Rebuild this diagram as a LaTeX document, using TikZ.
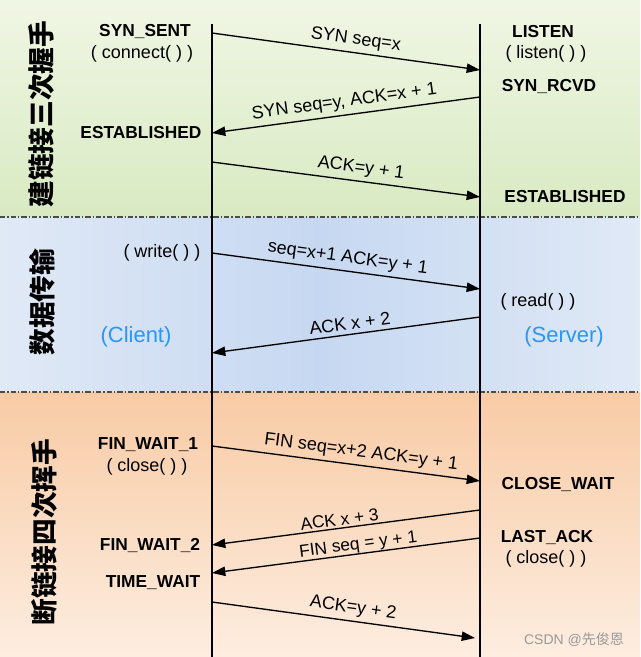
\documentclass[tikz,border=0pt]{standalone}
\usepackage{fontspec}
\setmainfont{Liberation Sans}
\newfontfamily\cjk{Noto Sans CJK SC}
\usetikzlibrary{arrows.meta}
\tikzset{>={Triangle[length=10pt,width=7pt]}}
\definecolor{sideblue}{RGB}{40,150,250}
\definecolor{greenA}{RGB}{240,246,228}
\definecolor{greenB}{RGB}{216,234,194}
\definecolor{blueA}{RGB}{224,233,246}
\definecolor{blueB}{RGB}{198,216,241}
\definecolor{peachA}{RGB}{248,203,165}
\definecolor{peachB}{RGB}{253,237,224}

\begin{document}
\begin{tikzpicture}[x=0.75pt,y=-0.75pt]

\tikzstyle{state}=[font=\bfseries\fontsize{13}{15}\selectfont,inner sep=0pt]
\tikzstyle{call}=[font=\fontsize{13.5}{15}\selectfont,inner sep=0pt]
\tikzstyle{side}=[font=\fontsize{16.5}{18}\selectfont,text=sideblue,inner sep=0pt]
\tikzstyle{phase}=[rotate=90,font=\cjk\bfseries\fontsize{20}{20}\selectfont,inner sep=0pt]
\tikzstyle{msg}=[->,line width=1pt]
\tikzstyle{lab}=[sloped,above,font=\fontsize{13.5}{15}\selectfont,inner sep=3pt]
\tikzstyle{sep}=[line width=0.8pt,black!70,dash pattern=on 4pt off 1.5pt on 1pt off 1.5pt]

 % background bands
 \useasboundingbox (0,0) rectangle (640,657);
 \shade[top color=greenA,bottom color=greenB] (0,0) rectangle (640,217);
 \shade[left color=blueA,right color=blueA,middle color=blueB] (0,217) rectangle (640,392);
 \shade[top color=peachA,bottom color=peachB] (0,392) rectangle (640,657);
 \draw[sep] (0,217) -- (640,217);
 \draw[sep] (0,392) -- (640,392);

 % phases
 \node[phase] (p1) at (41,114) {建链接三次握手};
 \node[phase] (p2) at (42,302) {数据传输};
 \node[phase] (p3) at (44,532) {断链接四次挥手};

 % lifelines
 \coordinate (ctop) at (212,24);
 \coordinate (cbot) at (212,657);
 \coordinate (stop) at (480,24);
 \coordinate (sbot) at (480,657);
 \draw[line width=1pt] (ctop) -- (cbot);
 \draw[line width=1pt] (stop) -- (sbot);

 % client side
 \node[state] (synsent) at (145,32) {SYN\_SENT};
 \node[call] (connect) at (142,54) {( connect( ) )};
 \node[state] (cest) at (141,133) {ESTABLISHED};
 \node[call] (write) at (162,253) {( write( ) )};
 \node[side] (client) at (136,337) {(Client)};
 \node[state] (fw1) at (148,445) {FIN\_WAIT\_1};
 \node[call] (cclose) at (147,467) {( close( ) )};
 \node[state] (fw2) at (150,545) {FIN\_WAIT\_2};
 \node[state] (tw) at (153,583) {TIME\_WAIT};

 % server side
 \node[state] (listen) at (543,32) {LISTEN};
 \node[call] (listencall) at (546,54) {( listen( ) )};
 \node[state] (synrcvd) at (549,87) {SYN\_RCVD};
 \node[state] (sest) at (565,197) {ESTABLISHED};
 \node[call] (read) at (538,302) {( read( ) )};
 \node[side] (server) at (564,337) {(Server)};
 \node[state] (cw) at (558,484) {CLOSE\_WAIT};
 \node[state] (la) at (547,537) {LAST\_ACK};
 \node[call] (sclose) at (546,559) {( close( ) )};

 % message end points
 \coordinate (c1) at (212,33);  \coordinate (s1) at (480,70);
 \coordinate (s2) at (480,97);  \coordinate (c2) at (212,133);
 \coordinate (c3) at (212,162); \coordinate (s3) at (480,197);
 \coordinate (c4) at (212,253); \coordinate (s4) at (480,289);
 \coordinate (s5) at (480,317); \coordinate (c5) at (212,353);
 \coordinate (c6) at (212,446); \coordinate (s6) at (480,481);
 \coordinate (s7) at (480,510); \coordinate (c7) at (212,545);
 \coordinate (s8) at (480,538); \coordinate (c8) at (212,573);
 \coordinate (c9) at (212,602); \coordinate (s9) at (475,638);

 % messages
 \draw[msg] (c1) -- (s1) node[lab,pos=0.53] {SYN seq=x};
 \draw[msg] (s2) -- (c2) node[lab,pos=0.5] {SYN seq=y, ACK=x + 1};
 \draw[msg] (c3) -- (s3) node[lab,pos=0.55] {ACK=y + 1};
 \draw[msg] (c4) -- (s4) node[lab,pos=0.5] {seq=x+1 ACK=y + 1};
 \draw[msg] (s5) -- (c5) node[lab,pos=0.48] {ACK x + 2};
 \draw[msg] (c6) -- (s6) node[lab,pos=0.55] {FIN seq=x+2 ACK=y + 1};
 \draw[msg] (s7) -- (c7) node[lab,pos=0.52,inner sep=1.5pt,font=\fontsize{13}{15}\selectfont] {ACK x + 3};
 \draw[msg] (s8) -- (c8) node[lab,pos=0.45,inner sep=0pt,font=\fontsize{13}{15}\selectfont] {FIN seq = y + 1};
 \draw[msg] (c9) -- (s9) node[lab,pos=0.53] {ACK=y + 2};

 \node[font=\fontsize{10.5}{12}\selectfont,text=black!40] (mark) at (574,640)
  {CSDN @{\cjk 先俊恩}};
\end{tikzpicture}
\end{document}
